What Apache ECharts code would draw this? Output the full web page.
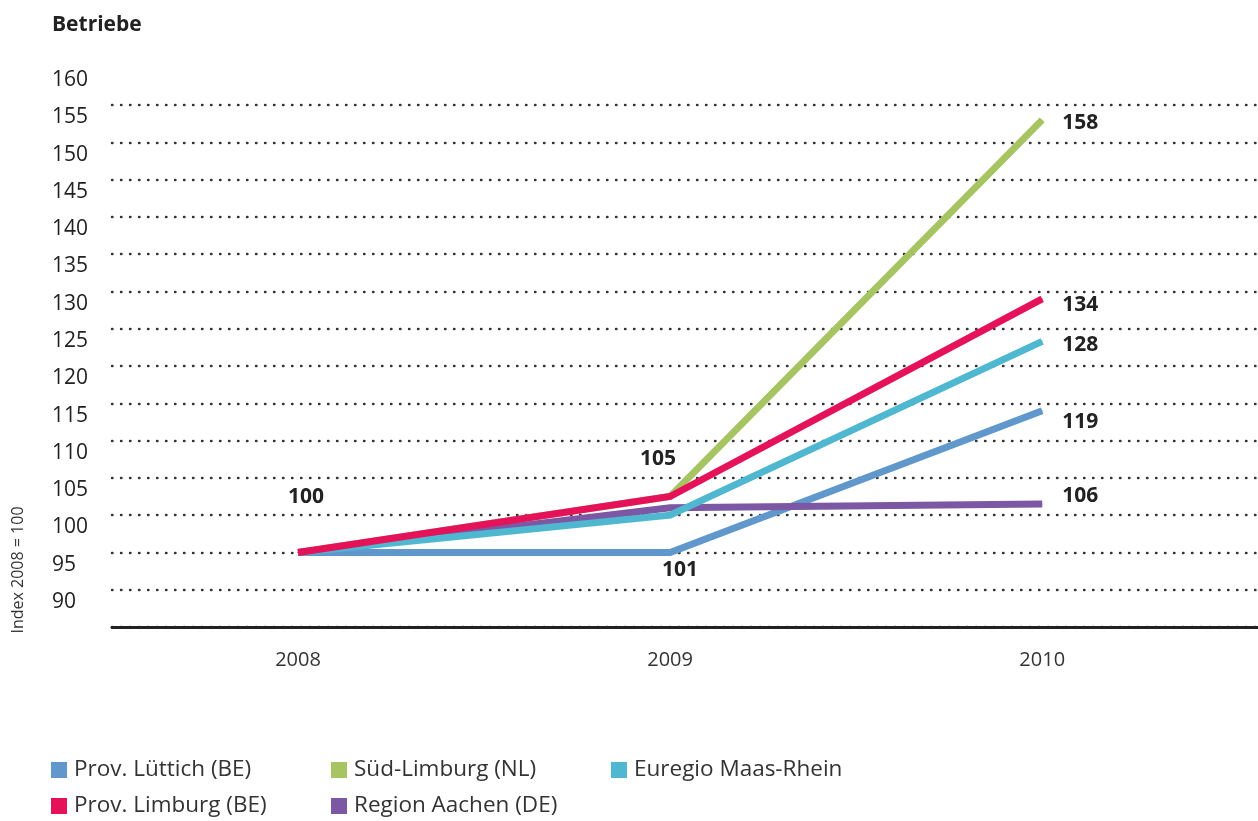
<!DOCTYPE html>
<html>
<head>
<meta charset="utf-8">
<script src="https://cdn.jsdelivr.net/npm/echarts@6/dist/echarts.min.js"></script>
<style>
  html, body { margin: 0; padding: 0; background: #ffffff; }
  #chart { width: 1258px; height: 821px; }
</style>
</head>
<body>
<div id="chart"></div>
<script>
// ---- data ----
var years = [2008, 2009, 2010];
var seriesNames = ['Prov. Lüttich (BE)', 'Süd-Limburg (NL)', 'Euregio Maas-Rhein', 'Prov. Limburg (BE)', 'Region Aachen (DE)'];
var luettich   = [100, 100, 119];
var suedLimburg = [100, 107.5, 158];
var euregio    = [100, 105, 128.3];
var limburg    = [100, 107.5, 134];
var aachen     = [100, 106, 106.5];
// printed point labels (as they appear in the chart)
var luettichLabels    = ['', '101', '119'];
var suedLimburgLabels = ['', '', '158'];
var euregioLabels     = ['', '', '128'];
var limburgLabels     = ['100', '105', '134'];
var aachenLabels      = ['', '', '106'];
var yTicks = { min: 90, max: 160, step: 5 };
var chartTitle = 'Betriebe';
var yAxisNote = 'Index 2008 = 100';

// ---- styling ----
var FONT = "'Open Sans', 'Noto Sans', sans-serif";
var colors = {
  'Prov. Lüttich (BE)': '#6198CC',
  'Süd-Limburg (NL)': '#A6C462',
  'Euregio Maas-Rhein': '#4FB8D0',
  'Prov. Limburg (BE)': '#E5125A',
  'Region Aachen (DE)': '#7C58A4'
};
// label offsets per series / point index (layout only)
var labelOffsets = {
  'Prov. Lüttich (BE)': [null, [10, 18], [38, 11]],
  'Süd-Limburg (NL)': [null, null, [38, 3]],
  'Euregio Maas-Rhein': [null, null, [38, 4]],
  'Prov. Limburg (BE)': [[8, -55], [-12, -37], [38, 6]],
  'Region Aachen (DE)': [null, null, [38, -8]]
};
// drawing order (bottom -> top)
var zOrder = {
  'Prov. Lüttich (BE)': 1,
  'Süd-Limburg (NL)': 2,
  'Region Aachen (DE)': 3,
  'Euregio Maas-Rhein': 4,
  'Prov. Limburg (BE)': 5
};

function buildSeries(name, values, labels) {
  var offs = labelOffsets[name];
  return {
    name: name,
    type: 'line',
    xAxisIndex: 0,
    yAxisIndex: 0,
    z: 2 + zOrder[name],
    symbol: 'circle',
    symbolSize: 1,
    showSymbol: true,
    itemStyle: { color: colors[name] },
    lineStyle: { color: colors[name], width: 7, cap: 'butt', join: 'miter' },
    emphasis: { disabled: true },
    data: years.map(function (yr, i) {
      var txt = labels[i];
      return {
        value: [yr, values[i]],
        label: txt ? {
          show: true,
          position: 'inside',
          align: 'center',
          verticalAlign: 'middle',
          offset: offs[i] || [0, 0],
          formatter: txt,
          fontFamily: FONT,
          fontWeight: 'bold',
          fontSize: 21,
          color: '#222'
        } : { show: false }
      };
    })
  };
}

var chart = echarts.init(document.getElementById('chart'), null, { renderer: 'canvas' });
var option = {
  animation: false,
  backgroundColor: '#ffffff',
  title: {
    text: chartTitle,
    left: 52,
    top: 15,
    padding: 0,
    textStyle: { fontFamily: FONT, fontSize: 21, fontWeight: 'bold', color: '#222' }
  },
  graphic: [{
    type: 'text',
    x: 18,
    y: 570,
    rotation: Math.PI / 2,
    style: {
      text: yAxisNote,
      fontFamily: FONT,
      fontSize: 16,
      fill: '#333',
      align: 'center',
      verticalAlign: 'middle'
    }
  }],
  grid: [
    { left: 112, right: 0, top: 105, bottom: 194, containLabel: false },
    // label grid: same scale, tick labels printed slightly above their gridlines
    { left: 112, right: 0, top: 80, bottom: 219, containLabel: false }
  ],
  xAxis: [{
    type: 'value',
    gridIndex: 0,
    min: 2007.5,
    max: 2010.58,
    splitLine: { show: false },
    axisTick: { show: false },
    axisLine: { show: true, onZero: false, lineStyle: { color: '#222', width: 3 } },
    axisLabel: {
      customValues: years,
      formatter: function (v) { return String(v); },
      margin: 23,
      fontFamily: FONT,
      fontSize: 20,
      color: '#333'
    }
  }, {
    type: 'value',
    gridIndex: 1,
    min: 2007.5,
    max: 2010.58,
    show: false
  }],
  yAxis: [{
    type: 'value',
    gridIndex: 0,
    min: yTicks.min,
    max: yTicks.max,
    interval: yTicks.step,
    axisLine: { show: false },
    axisTick: { show: false },
    splitLine: {
      show: true,
      lineStyle: { color: '#333', width: 2.4, type: [0.5, 8.5], cap: 'round' }
    },
    axisLabel: { show: false }
  }, {
    type: 'value',
    gridIndex: 1,
    min: yTicks.min,
    max: yTicks.max,
    interval: yTicks.step,
    axisLine: { show: false },
    axisTick: { show: false },
    splitLine: { show: false },
    axisLabel: {
      align: 'left',
      margin: 60,
      showMinLabel: true,
      showMaxLabel: true,
      fontFamily: FONT,
      fontSize: 21,
      color: '#222'
    }
  }],
  legend: {
    data: seriesNames,
    left: 51,
    top: 758,
    width: 900,
    orient: 'horizontal',
    icon: 'rect',
    itemWidth: 16,
    itemHeight: 16,
    itemGap: 12,
    padding: 0,
    selectedMode: false,
    textStyle: {
      fontFamily: FONT,
      fontSize: 22.5,
      color: '#333',
      width: 245,
      lineHeight: 24,
      padding: [0, 0, 0, 2]
    }
  },
  series: [
    buildSeries('Prov. Lüttich (BE)', luettich, luettichLabels),
    buildSeries('Süd-Limburg (NL)', suedLimburg, suedLimburgLabels),
    buildSeries('Euregio Maas-Rhein', euregio, euregioLabels),
    buildSeries('Prov. Limburg (BE)', limburg, limburgLabels),
    buildSeries('Region Aachen (DE)', aachen, aachenLabels)
  ]
};
chart.setOption(option);
</script>
</body>
</html>
